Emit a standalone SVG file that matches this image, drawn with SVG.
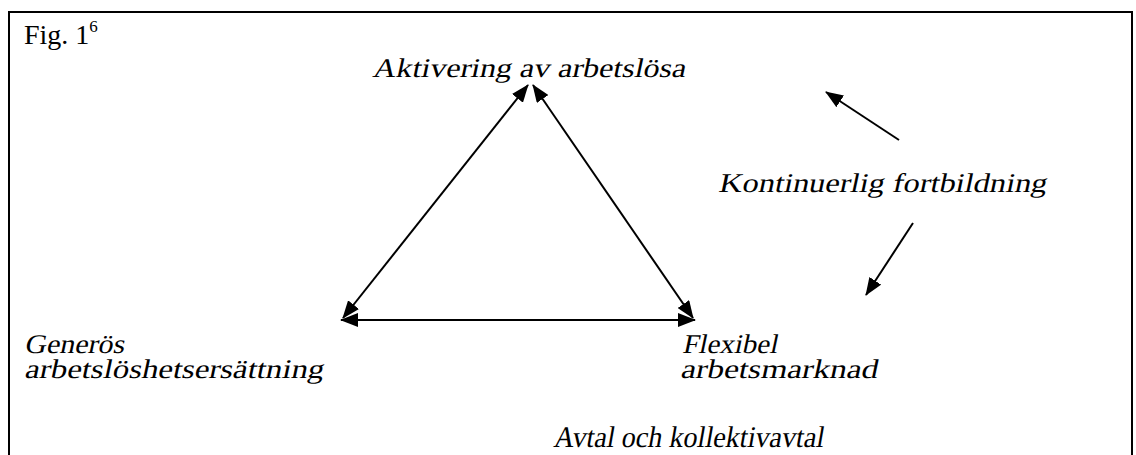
<svg xmlns="http://www.w3.org/2000/svg" width="1136" height="455" viewBox="0 0 1136 455">
<style>
text{font-family:"Liberation Serif","Times New Roman",serif;fill:#000}
.i{font-size:27px}
.ln{stroke:#000;stroke-width:2;fill:none}
</style>
<defs>
<marker id="ah" viewBox="0 0 18 14" refX="17" refY="7" markerWidth="18" markerHeight="14" markerUnits="userSpaceOnUse" orient="auto-start-reverse">
<path d="M0,0 L18,7 L0,14 Z" fill="#000"/>
</marker>
</defs>
<rect width="1136" height="455" fill="#fff"/>
<g id="frame">
<path d="M9,456 V12 H1132 V456" class="ln" stroke-width="2.5"/>
<text x="24" y="44" font-size="28">Fig. 1<tspan font-size="17" dy="-12">6</tspan></text>
</g>
<g id="node-aktivering" transform="translate(372,77) skewX(-12)"><text class="i" x="0" y="0" textLength="313" lengthAdjust="spacingAndGlyphs">Aktivering av arbetslösa</text></g>
<g id="node-kontinuerlig" transform="translate(718,192) skewX(-12)"><text class="i" x="0" y="0" textLength="328" lengthAdjust="spacingAndGlyphs">Kontinuerlig fortbildning</text></g>
<g id="node-generos" transform="translate(24,353) skewX(-12)">
<text class="i"><tspan x="0" y="0" textLength="100" lengthAdjust="spacingAndGlyphs">Generös</tspan><tspan x="5.3" y="25" textLength="299" lengthAdjust="spacingAndGlyphs">arbetslöshetsersättning</tspan></text>
</g>
<g id="node-flexibel" transform="translate(682,353) skewX(-12)">
<text class="i"><tspan x="0" y="0" textLength="95" lengthAdjust="spacingAndGlyphs">Flexibel</tspan><tspan x="3.3" y="25" textLength="197" lengthAdjust="spacingAndGlyphs">arbetsmarknad</tspan></text>
</g>
<g id="node-avtal" transform="translate(553,447) skewX(-10)"><text font-size="30" x="0" y="0" textLength="270" lengthAdjust="spacingAndGlyphs">Avtal och kollektivavtal</text></g>
<g id="connectors">
<line class="ln" x1="343" y1="318" x2="528" y2="85" marker-start="url(#ah)" marker-end="url(#ah)"/>
<line class="ln" x1="533" y1="85" x2="693" y2="318" marker-start="url(#ah)" marker-end="url(#ah)"/>
<line class="ln" x1="341" y1="320" x2="695" y2="320" marker-start="url(#ah)" marker-end="url(#ah)"/>
<line class="ln" x1="899" y1="140" x2="826" y2="92" marker-end="url(#ah)"/>
<line class="ln" x1="913" y1="223" x2="866" y2="295" marker-end="url(#ah)"/>
</g>
</svg>
